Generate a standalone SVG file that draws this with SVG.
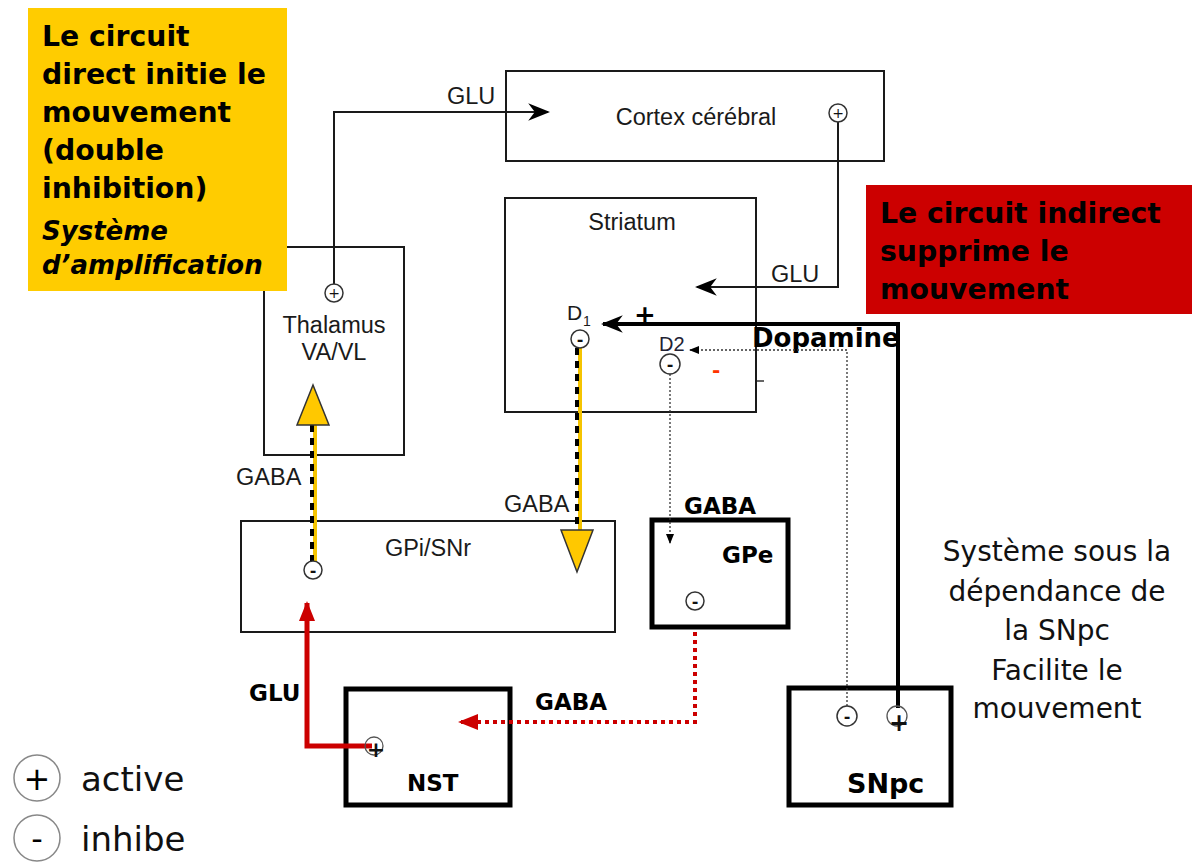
<svg xmlns="http://www.w3.org/2000/svg" width="1193" height="862" viewBox="0 0 1193 862">
<defs>
<style>
.box{fill:none;stroke:#1a1a1a;stroke-width:2}
.tbox{fill:none;stroke:#000;stroke-width:5}
.lbl{font-family:"Liberation Sans",Arial,sans-serif;font-size:23.5px;fill:#1a1a1a}
.bl{font-family:"DejaVu Sans",Verdana,sans-serif;font-weight:bold;font-size:23px;fill:#000}
.big{font-family:"DejaVu Sans",Verdana,sans-serif;font-weight:bold;font-size:28.3px;fill:#000}
.it{font-family:"DejaVu Sans",Verdana,sans-serif;font-weight:bold;font-style:italic;font-size:26px;fill:#000}
.side{font-family:"DejaVu Sans",Verdana,sans-serif;font-size:28px;fill:#111}
.leg{font-family:"DejaVu Sans",Verdana,sans-serif;font-size:34px;fill:#111}
.sym{fill:#fff;stroke:#333;stroke-width:1.5}
.symt{font-family:"DejaVu Sans",sans-serif;font-weight:bold;fill:#111;text-anchor:middle}
.thin{fill:none;stroke:#1a1a1a;stroke-width:2}
.dot{fill:none;stroke:#333;stroke-width:1.3;stroke-dasharray:2 2}
.yel{fill:none;stroke:#F5C400;stroke-width:4}
.ydash{fill:none;stroke:#000;stroke-width:4;stroke-dasharray:7 6}
.red{fill:none;stroke:#CC0000;stroke-width:5}
.reddot{fill:none;stroke:#CC0000;stroke-width:4;stroke-dasharray:4 4}
</style>
<marker id="ahb" viewBox="0 0 10 10" refX="9" refY="5" markerWidth="22" markerHeight="22" markerUnits="userSpaceOnUse" orient="auto"><path d="M0,1 L10,5 L0,9 L3,5 z" fill="#000"/></marker>
<marker id="ahs" viewBox="0 0 10 10" refX="9" refY="5" markerWidth="10" markerHeight="10" markerUnits="userSpaceOnUse" orient="auto"><path d="M0,1 L10,5 L0,9 z" fill="#000"/></marker>
<marker id="ahr" viewBox="0 0 10 10" refX="9" refY="5" markerWidth="20" markerHeight="20" markerUnits="userSpaceOnUse" orient="auto"><path d="M0,1 L10,5 L0,9 z" fill="#CC0000"/></marker>
</defs>
<rect width="1193" height="862" fill="#fff"/>

<g id="thalamus">
<rect class="box" x="264" y="247" width="140" height="208"/>
<text class="lbl" x="334" y="333" text-anchor="middle">Thalamus</text>
<text class="lbl" x="334" y="360" text-anchor="middle">VA/VL</text>
</g>

<g id="note-direct">
<rect x="28" y="8" width="259" height="283" fill="#FFCC00"/>
<text class="big" x="42" y="46">Le circuit</text>
<text class="big" x="42" y="84">direct initie le</text>
<text class="big" x="42" y="122">mouvement</text>
<text class="big" x="42" y="160">(double</text>
<text class="big" x="42" y="198">inhibition)</text>
<text class="it" x="42" y="240">Système</text>
<text class="it" x="42" y="274">d’amplification</text>
</g>

<g id="note-indirect">
<rect x="866" y="185" width="326" height="129" fill="#CC0000"/>
<text class="big" x="880" y="223">Le circuit indirect</text>
<text class="big" x="880" y="261">supprime le</text>
<text class="big" x="880" y="299">mouvement</text>
</g>

<g id="cortex">
<rect class="box" x="506" y="71" width="378" height="90"/>
<text class="lbl" x="696" y="125" text-anchor="middle">Cortex cérébral</text>
</g>

<g id="striatum">
<rect class="box" x="505" y="198" width="251" height="214"/>
<text class="lbl" x="632" y="230" text-anchor="middle">Striatum</text>
<text class="lbl" x="567" y="320" style="font-size:21px">D</text>
<text class="lbl" x="583" y="326" style="font-size:14px">1</text>
<text class="lbl" x="659" y="351" style="font-size:20px;fill:#223">D2</text>
<text x="712" y="377" style="font-family:'DejaVu Sans',sans-serif;font-weight:bold;font-size:20px;fill:#FF3300">-</text>
<line x1="757" y1="381" x2="764" y2="381" stroke="#333" stroke-width="1.5"/>
</g>

<g id="gpi-snr">
<rect class="box" x="241" y="521" width="374" height="111"/>
<text class="lbl" x="428" y="556" text-anchor="middle">GPi/SNr</text>
</g>

<g id="gpe">
<rect class="tbox" x="652" y="520" width="136" height="107"/>
<text class="bl" x="722" y="563">GPe</text>
</g>

<g id="nst">
<rect class="tbox" x="346" y="689" width="164" height="116"/>
<text class="bl" x="407" y="791">NST</text>
</g>

<g id="snpc">
<rect class="tbox" x="789" y="688" width="162" height="117"/>
<text class="bl" x="847" y="793" style="font-size:27px">SNpc</text>
</g>

<g id="connectors">
<polyline class="thin" points="334,284 334,112 548,112" marker-end="url(#ahb)"/>
<text class="lbl" x="447" y="104">GLU</text>
<polyline class="thin" points="838,122 838,287 697,287" marker-end="url(#ahb)"/>
<text class="lbl" x="771" y="282">GLU</text>
<polyline fill="none" stroke="#000" stroke-width="4" points="898,708 898,324 603,324" marker-end="url(#ahb)"/>
<text x="645" y="324" style="font-family:'DejaVu Sans',sans-serif;font-weight:bold;font-size:26px;fill:#000" text-anchor="middle">+</text>
<text class="bl" x="752" y="347" style="font-size:26px">Dopamine</text>
<polyline class="dot" points="847,706 847,350 690,350" marker-end="url(#ahs)"/>
<polyline class="dot" points="670,374 670,543" marker-end="url(#ahs)"/>
<text class="bl" x="684" y="514">GABA</text>
<line class="yel" x1="580" y1="348" x2="580" y2="532"/>
<line class="ydash" x1="577" y1="348" x2="577" y2="532"/>
<polygon points="561,530 593,530 577,572" fill="#FFC800" stroke="#333" stroke-width="1.5"/>
<text class="lbl" x="504" y="512">GABA</text>
<line class="yel" x1="315" y1="562" x2="315" y2="423"/>
<line class="ydash" x1="312" y1="562" x2="312" y2="423"/>
<polygon points="297,425 329,425 313,385" fill="#FFC800" stroke="#333" stroke-width="1.5"/>
<text class="lbl" x="236" y="485">GABA</text>
<polyline class="red" points="372,746 307,746 307,603" marker-end="url(#ahr)"/>
<text class="bl" x="249" y="701">GLU</text>
<polyline class="reddot" points="695,632 695,722 460,722" marker-end="url(#ahr)"/>
<text class="bl" x="535" y="710">GABA</text>
</g>

<g id="symbols">
<circle class="sym" cx="334" cy="293" r="9"/><text class="symt" x="334" y="298" style="font-size:14px;font-weight:normal">+</text>
<circle class="sym" cx="838" cy="113" r="9"/><text class="symt" x="838" y="118" style="font-size:14px;font-weight:normal">+</text>
<circle class="sym" cx="580" cy="339" r="9"/><text class="symt" x="580" y="345" style="font-size:16px">-</text>
<circle class="sym" cx="670" cy="364" r="10"/><text class="symt" x="670" y="370" style="font-size:16px">-</text>
<circle class="sym" cx="313" cy="570" r="9"/><text class="symt" x="313" y="576" style="font-size:16px">-</text>
<circle class="sym" cx="695" cy="601" r="9"/><text class="symt" x="695" y="607" style="font-size:16px">-</text>
<circle cx="374" cy="746" r="9" fill="none" stroke="#555" stroke-width="1.3"/><text class="symt" x="376" y="757" style="font-size:22px">+</text>
<circle class="sym" cx="847" cy="716" r="10"/><text class="symt" x="847" y="722" style="font-size:16px">-</text>
<circle cx="897" cy="716" r="10" fill="none" stroke="#555" stroke-width="1.3"/><text class="symt" x="899" y="731" style="font-size:24px">+</text>
</g>

<g id="side-text">
<text class="side" text-anchor="middle"><tspan x="1057" y="561">Système sous la</tspan><tspan x="1057" y="601">dépendance de</tspan><tspan x="1057" y="640">la SNpc</tspan><tspan x="1057" y="680">Facilite le</tspan><tspan x="1057" y="718">mouvement</tspan></text>
</g>

<g id="legend">
<circle cx="37" cy="778" r="23" fill="#fff" stroke="#888" stroke-width="1.5"/>
<text x="37" y="790" style="font-family:'DejaVu Sans',sans-serif;font-size:32px;fill:#000" text-anchor="middle">+</text>
<circle cx="37" cy="838" r="23" fill="#fff" stroke="#888" stroke-width="1.5"/>
<text x="37" y="850" style="font-family:'DejaVu Sans',sans-serif;font-size:32px;fill:#000" text-anchor="middle">-</text>
<text class="leg" x="81" y="791">active</text>
<text class="leg" x="81" y="851">inhibe</text>
</g>
</svg>
